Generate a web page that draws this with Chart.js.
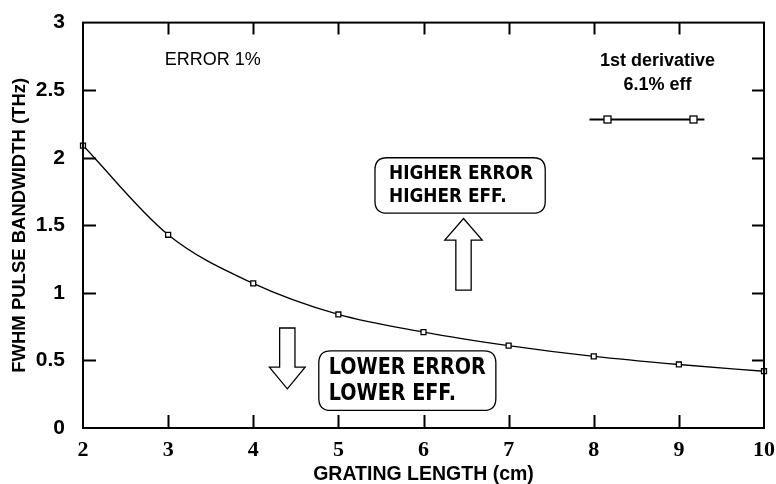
<!DOCTYPE html>
<html>
<head>
<meta charset="utf-8">
<script src="https://cdn.jsdelivr.net/npm/chart.js@4.4.0/dist/chart.umd.min.js"></script>
<style>
  html, body { margin: 0; padding: 0; background: #fff; }
  #wrap { width: 776px; height: 484px; position: relative; }
</style>
</head>
<body>
<div id="wrap"><canvas id="chart" width="776" height="484"></canvas></div>
<script>
// grating length (cm) and bandwidth (THz)
const gratingLength = [2, 3, 4, 5, 6, 7, 8, 9, 10];
const bandwidth = [2.09, 1.43, 1.07, 0.84, 0.71, 0.61, 0.53, 0.47, 0.42];
const yTicks = [0, 0.5, 1, 1.5, 2, 2.5, 3];
const xTicks = [2, 3, 4, 5, 6, 7, 8, 9, 10];

// text notes, boxes and arrows placed in data units
const noteError = { x: 2.96, y: 2.72, text: 'ERROR 1%' };
const legendLines = ['1st derivative', '6.1% eff'];
const legendAt = { x: 8.75, y: 2.715 };
const legendSample = { x0: 7.95, x1: 9.3, y: 2.29, m0: 8.15, m1: 9.17 };
const higherBox = {
  x0: 5.43, x1: 7.43, y0: 2.0, y1: 1.59,
  lines: ['HIGHER ERROR', 'HIGHER EFF.'], size: 19, width: 144,
};
const lowerBox = {
  x0: 4.77, x1: 6.85, y0: 0.57, y1: 0.13,
  lines: ['LOWER ERROR', 'LOWER EFF.'], size: 23, width: 157,
};
const upArrow = { x: 6.47, tip: 1.55, neck: 1.39, base: 1.02, head: 0.22, shaft: 0.09 };
const downArrow = { x: 4.4, tip: 0.29, neck: 0.45, base: 0.74, head: 0.21, shaft: 0.09 };

const SANS = '"Liberation Sans", Arial, sans-serif';
const SERIF = '"Liberation Serif", "Times New Roman", serif';
const BOXFONT = '"DejaVu Sans", Verdana, sans-serif';

function roundRect(ctx, x, y, w, h, r) {
  ctx.beginPath();
  ctx.moveTo(x + r, y);
  ctx.lineTo(x + w - r, y);
  ctx.quadraticCurveTo(x + w, y, x + w, y + r);
  ctx.lineTo(x + w, y + h - r);
  ctx.quadraticCurveTo(x + w, y + h, x + w - r, y + h);
  ctx.lineTo(x + r, y + h);
  ctx.quadraticCurveTo(x, y + h, x, y + h - r);
  ctx.lineTo(x, y + r);
  ctx.quadraticCurveTo(x, y, x + r, y);
  ctx.closePath();
}

function drawArrow(ctx, sx, sy, a) {
  const cx = sx.getPixelForValue(a.x);
  const hw = sx.getPixelForValue(a.x + a.head) - cx;
  const sw = sx.getPixelForValue(a.x + a.shaft) - cx;
  const tip = sy.getPixelForValue(a.tip);
  const neck = sy.getPixelForValue(a.neck);
  const base = sy.getPixelForValue(a.base);
  ctx.beginPath();
  ctx.moveTo(cx, tip);
  ctx.lineTo(cx + hw, neck);
  ctx.lineTo(cx + sw, neck);
  ctx.lineTo(cx + sw, base);
  ctx.lineTo(cx - sw, base);
  ctx.lineTo(cx - sw, neck);
  ctx.lineTo(cx - hw, neck);
  ctx.closePath();
  ctx.fillStyle = '#fff';
  ctx.fill();
  ctx.strokeStyle = '#000';
  ctx.lineWidth = 1.3;
  ctx.stroke();
}

function drawBox(ctx, sx, sy, b) {
  const x0 = sx.getPixelForValue(b.x0);
  const x1 = sx.getPixelForValue(b.x1);
  const y0 = sy.getPixelForValue(b.y0);
  const y1 = sy.getPixelForValue(b.y1);
  roundRect(ctx, x0, y0, x1 - x0, y1 - y0, 12);
  ctx.fillStyle = '#fff';
  ctx.fill();
  ctx.strokeStyle = '#000';
  ctx.lineWidth = 1.3;
  ctx.stroke();
  ctx.fillStyle = '#000';
  ctx.font = 'bold ' + b.size + 'px ' + BOXFONT;
  ctx.textAlign = 'left';
  ctx.textBaseline = 'middle';
  const h = (y1 - y0) / 2;
  // squeeze the text to the width it has in the original
  const full = ctx.measureText(b.lines[0]).width;
  b.lines.forEach((t, i) => {
    const w = ctx.measureText(t).width * (b.width / full);
    ctx.fillText(t, x0 + (b.size > 20 ? 10 : 14), y0 + h * (i + 0.5) + (i === 0 ? 2 : -2), w);
  });
}

const framePlugin = {
  id: 'frame',
  afterDatasetsDraw(chart) {
    const { ctx, chartArea: a, scales: { x: sx, y: sy } } = chart;
    ctx.save();
    // frame
    ctx.strokeStyle = '#000';
    ctx.lineWidth = 2;
    ctx.strokeRect(a.left, a.top, a.right - a.left, a.bottom - a.top);
    // inward ticks
    ctx.beginPath();
    xTicks.slice(1, -1).forEach((v) => {
      const px = Math.round(sx.getPixelForValue(v)) + 0.5;
      ctx.moveTo(px, a.bottom);
      ctx.lineTo(px, a.bottom - 13);
      ctx.moveTo(px, a.top);
      ctx.lineTo(px, a.top + 12);
    });
    yTicks.slice(1, -1).forEach((v) => {
      const py = Math.round(sy.getPixelForValue(v)) + 0.5;
      ctx.moveTo(a.left, py);
      ctx.lineTo(a.left + 13, py);
      ctx.moveTo(a.right, py);
      ctx.lineTo(a.right - 12, py);
    });
    ctx.stroke();

    // notes
    ctx.fillStyle = '#000';
    ctx.font = '18px ' + SANS;
    ctx.textAlign = 'left';
    ctx.textBaseline = 'middle';
    ctx.fillText(noteError.text, sx.getPixelForValue(noteError.x), sy.getPixelForValue(noteError.y));

    ctx.font = 'bold 18px ' + SANS;
    ctx.textAlign = 'center';
    const lx = sx.getPixelForValue(legendAt.x);
    const ly = sy.getPixelForValue(legendAt.y);
    legendLines.forEach((t, i) => ctx.fillText(t, lx, ly + i * 24, 122));

    // legend sample line
    const gy = Math.round(sy.getPixelForValue(legendSample.y)) + 0.5;
    ctx.lineWidth = 2;
    ctx.beginPath();
    ctx.moveTo(sx.getPixelForValue(legendSample.x0), gy);
    ctx.lineTo(sx.getPixelForValue(legendSample.x1), gy);
    ctx.stroke();
    ctx.lineWidth = 1.3;
    [legendSample.m0, legendSample.m1].forEach((m) => {
      const mx = Math.round(sx.getPixelForValue(m)) + 0.5;
      ctx.fillStyle = '#fff';
      ctx.fillRect(mx - 3.5, gy - 3.5, 7, 7);
      ctx.strokeRect(mx - 3.5, gy - 3.5, 7, 7);
    });

    drawBox(ctx, sx, sy, higherBox);
    drawBox(ctx, sx, sy, lowerBox);
    drawArrow(ctx, sx, sy, upArrow);
    drawArrow(ctx, sx, sy, downArrow);
    ctx.restore();
  },
};

new Chart(document.getElementById('chart'), {
  type: 'line',
  data: {
    datasets: [{
      data: gratingLength.map((g, i) => ({ x: g, y: bandwidth[i] })),
      borderColor: '#000',
      borderWidth: 1.3,
      tension: 0.3,
      cubicInterpolationMode: 'monotone',
      pointStyle: 'rect',
      pointRadius: 3.5,
      pointBorderWidth: 1.3,
      pointBackgroundColor: '#fff',
      pointBorderColor: '#000',
      clip: false,
    }],
  },
  options: {
    responsive: false,
    animation: false,
    devicePixelRatio: 1,
    layout: { padding: { top: 17, right: 9, left: 0, bottom: 0 } },
    plugins: { legend: { display: false }, tooltip: { enabled: false } },
    scales: {
      x: {
        type: 'linear',
        min: 2,
        max: 10,
        afterBuildTicks: (s) => { s.ticks = xTicks.map((v) => ({ value: v })); },
        afterFit: (s) => { s.height = 56; },
        grid: { display: false },
        border: { display: false },
        ticks: {
          color: '#000',
          font: { family: SERIF, size: 22, weight: 'bold' },
          padding: 1,
          maxRotation: 0,
          callback: (v) => String(v),
        },
        title: {
          display: true,
          text: 'GRATING LENGTH (cm)',
          color: '#000',
          font: { family: SANS, size: 19.5, weight: 'bold' },
          padding: { top: 0, bottom: -2 },
        },
      },
      y: {
        type: 'linear',
        min: 0,
        max: 3,
        afterBuildTicks: (s) => { s.ticks = yTicks.map((v) => ({ value: v })); },
        afterFit: (s) => { s.width = 83; },
        grid: { display: false },
        border: { display: false },
        ticks: {
          color: '#000',
          font: { family: SANS, size: 21, weight: 'bold' },
          padding: 10,
          callback: (v) => String(v),
        },
        title: {
          display: true,
          text: 'FWHM PULSE BANDWIDTH (THz)',
          color: '#000',
          font: { family: SANS, size: 18.5, weight: 'bold' },
          padding: { top: 9, bottom: 4 },
        },
      },
    },
  },
  plugins: [framePlugin],
});
</script>
</body>
</html>
